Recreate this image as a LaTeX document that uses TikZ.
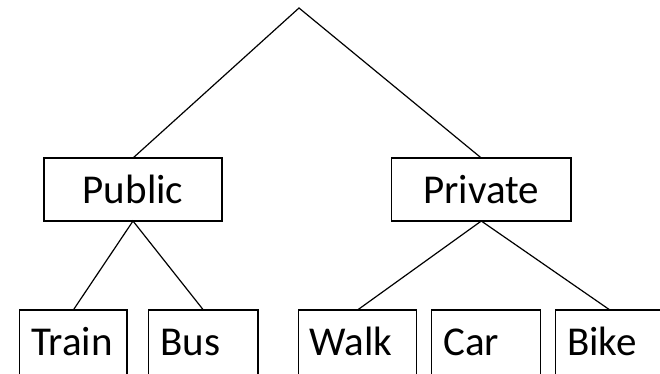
\documentclass[tikz,border=0pt]{standalone}
\usepackage{fontspec}
\setmainfont{Carlito}
\begin{document}
\begin{tikzpicture}[x=1pt,y=-1pt,line width=1.2pt,
  midbox/.style={draw=black,rectangle,outer sep=0pt,inner sep=0pt,
    minimum height=63pt,text height=27pt,text depth=0pt,
    font=\fontsize{41}{48}\selectfont},
  leafbox/.style={draw=black,rectangle,outer sep=0pt,inner ysep=0pt,inner xsep=11.5pt,
    minimum height=66pt,text height=24pt,text depth=0pt,align=left,
    font=\fontsize{41}{48}\selectfont},
  link/.style={draw=black,line width=1.2pt}]
\useasboundingbox (0,0) rectangle (660,373);
\begin{scope}
\clip (0,0) rectangle (660,373);
\coordinate (top) at (299,8);
\node[midbox,minimum width=178pt] (public) at (133,189.5) {Public};
\node[midbox,minimum width=179.3pt] (private) at (481.3,189.5) {Private};
\node[leafbox,text width=84.4pt] (train) at (73.3,343) {Train};
\node[leafbox,text width=86.3pt] (bus) at (203.4,343) {Bus};
\node[leafbox,text width=95.4pt] (walk) at (357.5,343) {Walk};
\node[leafbox,text width=86pt] (car) at (486.2,343) {Car};
\node[leafbox,text width=85.3pt] (bike) at (609.9,343) {Bike};
\draw[link] (public.north) -- (top) -- (private.north);
\draw[link] (train.north) -- (public.south) -- (bus.north);
\draw[link] (walk.north) -- (private.south) -- (bike.north);
\end{scope}
\end{tikzpicture}
\end{document}
